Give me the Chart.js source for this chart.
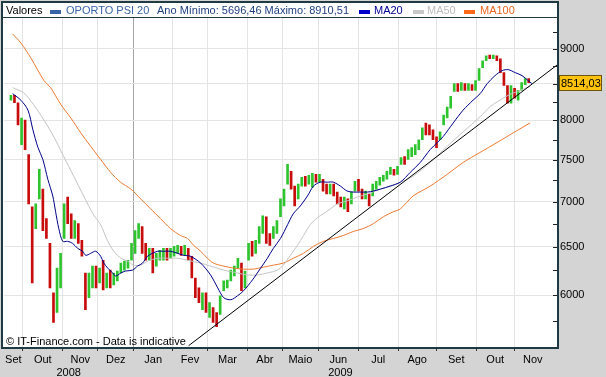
<!DOCTYPE html>
<html>
<head>
<meta charset="utf-8">
<title>OPORTO PSI 20</title>
<script src="https://cdn.jsdelivr.net/npm/chart.js@4.4.1/dist/chart.umd.min.js"></script>
<style>
  html, body { margin: 0; padding: 0; background: #d4d4d4; }
  canvas { display: block; }
</style>
</head>
<body>
<canvas id="psiChart" width="606" height="377"></canvas>
<script>
// one candle = two sessions, mid Sep 2008 -> early Nov 2009
const openVals = [
  8271, 8338, 8237, 7687, 8006, 7563, 6939, 6695, 7030, 7145,
  6805, 6534, 6024, 5831, 6073, 6587, 7053, 6860, 6587, 6750,
  6566, 6223, 5975, 6073, 6294, 6122, 6355, 6073, 6253, 6102,
  6142, 6223, 6253, 6273, 6355, 6428, 6587, 6717, 6534, 6355,
  6481, 6294, 6355, 6355, 6481, 6376, 6397, 6428, 6502, 6407,
  6481, 6397, 6172, 6073, 5859, 6024, 5784, 5878, 5831, 5812,
  6044, 6073, 6142, 6192, 6273, 6325, 6073, 6355, 6556, 6428,
  6534, 6641, 6827, 6641, 6587, 6641, 6827, 6950, 7203, 7357,
  7180, 7030, 7180, 7298, 7203, 7168, 7321, 7227, 7262, 7203,
  7087, 7203, 7110, 7053, 6916, 7030, 6973, 7122, 7262, 7145,
  7030, 7087, 7064, 7145, 7191, 7238, 7262, 7321, 7381, 7321,
  7441, 7538, 7502, 7538, 7563, 7625, 7750, 7967, 7941, 7877,
  7788, 7750, 7941, 8032, 8165, 8392, 8499, 8406, 8499, 8406,
  8485, 8406, 8544, 8727, 8826, 8910, 8855, 8898, 8855, 8656,
  8474, 8231, 8433, 8271, 8406, 8485, 8571
];
const closeVals = [
  8338, 8237, 7941, 8032, 7625, 6973, 6122, 6973, 7381, 6673,
  6587, 6073, 5737, 6273, 6428, 6973, 6750, 6587, 6783, 6534,
  6397, 5859, 6223, 6294, 6073, 6273, 6053, 6223, 6073, 6223,
  6243, 6325, 6345, 6355, 6534, 6673, 6750, 6428, 6355, 6481,
  6223, 6428, 6460, 6481, 6355, 6481, 6502, 6513, 6407, 6513,
  6355, 6172, 5975, 5926, 6024, 5831, 5926, 5737, 5696, 5994,
  6142, 6152, 6253, 6294, 6376, 6044, 6243, 6534, 6397, 6566,
  6717, 6838, 6534, 6513, 6717, 6783, 7030, 7145, 7441, 7145,
  6950, 7203, 7286, 7180, 7310, 7333, 7227, 7321, 7122, 7087,
  7203, 7064, 6973, 6939, 7053, 6883, 7110, 7238, 7122, 7030,
  7122, 6950, 7203, 7238, 7286, 7310, 7357, 7405, 7310, 7417,
  7526, 7441, 7625, 7650, 7687, 7750, 7903, 7813, 7813, 7750,
  7650, 7851, 8071, 8178, 8325, 8499, 8392, 8513, 8406, 8499,
  8406, 8544, 8712, 8826, 8898, 8855, 8910, 8826, 8656, 8474,
  8231, 8474, 8300, 8406, 8513, 8571, 8514.03
];

// moving averages, read at candle positions
const ma20At = [0.5, 2.8, 4.8, 6.2, 7.6, 9.0, 10.4, 11.8, 12.6, 13.5, 14.6, 16.0, 17.4, 18.8, 20.2, 21.1, 22.5, 23.9, 25.3, 26.2,
  27.3, 28.7, 29.5, 31.0, 32.3, 34.3, 35.7, 37.1, 38.5, 39.9, 41.4, 43.0, 45.0, 47.0, 48.7, 50.6, 53.5, 56.3, 58.3, 60.0,
  62.0, 63.9, 65.6, 68.1, 70.4, 72.3, 74.0, 76.0, 78.0, 79.6, 81.6, 83.6, 85.3, 87.2, 89.2, 90.9, 92.9, 94.8, 96.5, 98.5,
  100.5, 102.2, 104.2, 106.9, 109.8, 112.6, 115.4, 118.2, 120.2, 121.9, 124.7, 127.5, 130.3, 132.3, 134.3, 136.5, 138.5, 140.2, 142.2, 144.1,
  145.8, 146.9];
const ma20 = [8361, 8271, 8137, 7877, 7654, 7502, 7262, 7064, 6883, 6695, 6556, 6556, 6534, 6481, 6450, 6407, 6428, 6450, 6397, 6325,
  6273, 6223, 6192, 6223, 6243, 6253, 6294, 6325, 6397, 6428, 6450, 6450, 6450, 6428, 6407, 6397, 6325, 6202, 6073, 5975,
  5955, 5994, 6044, 6152, 6273, 6376, 6481, 6587, 6738, 6860, 6950, 7064, 7180, 7227, 7227, 7227, 7180, 7122, 7110, 7110,
  7110, 7122, 7145, 7180, 7227, 7345, 7465, 7625, 7713, 7792, 7967, 8137, 8271, 8361, 8500, 8613, 8684, 8698, 8655, 8613,
  8544, 8500];

const ma50At = [0.5, 3.6, 6.4, 9.3, 12.1, 14.9, 17.7, 20.5, 23.3, 25.3, 27.3, 29.0, 31.0, 32.9, 34.6, 36.6, 38.5, 41.4, 44.2, 47.0,
  49.8, 53.5, 56.3, 60.0, 63.9, 66.7, 69.5, 72.3, 75.1, 76.8, 78.8, 80.8, 82.5, 84.4, 86.4, 88.1, 90.1, 92.0, 94.8, 97.7,
  100.5, 104.2, 107.0, 109.8, 113.4, 118.2, 123.0, 127.5, 132.3, 135.1, 137.9, 140.2, 143.6, 146.4];
const ma50 = [8443, 8372, 8210, 8006, 7787, 7538, 7298, 7064, 6849, 6738, 6556, 6450, 6376, 6345, 6304, 6304, 6345, 6376, 6376, 6376,
  6355, 6325, 6294, 6253, 6223, 6202, 6202, 6223, 6253, 6304, 6407, 6513, 6619, 6738, 6816, 6860, 6916, 6973, 7007, 7053,
  7087, 7145, 7180, 7227, 7298, 7465, 7665, 7851, 8049, 8184, 8271, 8338, 8406, 8460];

const ma100At = [0.5, 2.8, 5.6, 9.3, 11.2, 14.0, 16.9, 19.7, 22.5, 25.3, 28.1, 30.9, 33.8, 36.6, 39.4, 42.2, 45.0, 47.8, 49.8, 51.5,
  53.5, 55.4, 57.1, 60.0, 62.8, 65.6, 68.4, 71.2, 74.0, 76.8, 79.6, 82.5, 85.3, 88.1, 90.9, 93.7, 96.5, 99.3, 102.2, 105.0,
  107.8, 109.8, 113.4, 118.2, 123.0, 127.5, 132.3, 137.1, 141.6, 146.4];
const ma100 = [9224, 9089, 8869, 8544, 8443, 8218, 8032, 7838, 7665, 7502, 7345, 7227, 7145, 7030, 6916, 6805, 6695, 6619, 6587, 6513,
  6450, 6376, 6325, 6294, 6273, 6263, 6263, 6283, 6304, 6325, 6376, 6428, 6502, 6556, 6587, 6619, 6663, 6695, 6750, 6827,
  6883, 6916, 7064, 7180, 7321, 7465, 7590, 7715, 7838, 7967];

// support line
const trendAt = [50.1, 154.25];
const trendVals = [5521, 8775];

// axis labels
const monthEdges = [-2, 3.35, 14.6, 24.5, 34.6, 45.6, 55.4, 66.7, 76.5, 86.7, 97.9, 109.2, 119.9, 131.2, 141.9, 152.4];
const monthNames = ['Set', 'Out', 'Nov', 'Dez', 'Jan', 'Fev', 'Mar', 'Abr', 'Maio', 'Jun', 'Jul', 'Ago', 'Set', 'Out', 'Nov'];
const yearAt = [16.3, 92.9];
const yearNames = ['2008', '2009'];
const yearStart = 34.6;
const yTicks = [6000, 6500, 7000, 7500, 8000, 8500, 9000];
const yMinor = [5750, 6000, 6250, 6500, 6750, 7000, 7250, 7500, 7750, 8000, 8250, 8500, 8750, 9000, 9250];

const yearMin = '5696,46';
const yearMax = '8910,51';
const lastClose = 8514.03;

const xMin = -2, xMax = 154.25;
const FONT = '"Liberation Sans", Arial, sans-serif';

const candles = openVals.map((o, i) => ({ x: i, y: [o, closeVals[i]] }));
const candleColors = openVals.map((o, i) => closeVals[i] >= o ? '#2ec42e' : '#c80c0c');
const toPts = (xs, ys) => xs.map((x, k) => ({ x: x, y: ys[k] }));
const monthMid = monthNames.map((m, k) => (monthEdges[k] + monthEdges[k + 1]) / 2);

const decor = {
    id: 'decor',
    beforeDraw(chart) {
        const { ctx, chartArea: a } = chart;
        ctx.save();
        ctx.fillStyle = '#d4d4d4';
        ctx.fillRect(0, 0, chart.width, chart.height);
        ctx.fillStyle = '#ffffff';
        ctx.fillRect(2, 2, a.right - 2, a.bottom - 2);
        ctx.restore();
    },
    afterDraw(chart) {
        const { ctx, chartArea: a } = chart;
        const yScale = chart.scales.y;
        ctx.save();

        // inward tick marks on the price axis
        ctx.strokeStyle = '#222';
        ctx.lineWidth = 1;
        yMinor.forEach(v => {
            const py = Math.round(yScale.getPixelForValue(v)) + 0.5;
            ctx.beginPath();
            ctx.moveTo(a.right - 5, py);
            ctx.lineTo(a.right, py);
            ctx.stroke();
        });

        // legend strip
        ctx.fillStyle = '#ffffff';
        ctx.fillRect(3, 3, a.right - 3, 14);
        ctx.font = '11px ' + FONT;
        ctx.textBaseline = 'middle';
        const ly = 11;
        const text = (s, x, c) => { ctx.fillStyle = c; ctx.fillText(s, x, ly); };
        const box = (x, c) => { ctx.fillStyle = c; ctx.fillRect(x, 10, 11, 4); };
        text('Valores', 6, '#000000');
        box(50, '#3a64a8');
        text('OPORTO PSI 20', 66, '#3a64a8');
        text('Ano Mínimo: ' + yearMin + ' Máximo: ' + yearMax, 157, '#1f3f80');
        box(359, '#0000cc');
        text('MA20', 374, '#000099');
        box(413, '#c8c8c8');
        text('MA50', 427, '#bdbdbd');
        box(464, '#ff6a1a');
        text('MA100', 480, '#e8641c');

        // frame
        ctx.strokeStyle = '#1f3a42';
        ctx.lineWidth = 1;
        ctx.beginPath();
        ctx.moveTo(3, 17.5);
        ctx.lineTo(a.right, 17.5);
        ctx.stroke();
        ctx.lineWidth = 2;
        ctx.strokeRect(2, 2, a.right - 2, a.bottom - 2);

        // source note
        ctx.fillStyle = '#000000';
        ctx.fillText('© IT-Finance.com - Data is indicative', 6, 342);

        // last price tag
        const py = Math.round(yScale.getPixelForValue(lastClose));
        ctx.fillStyle = '#ffc20e';
        ctx.fillRect(559, py - 8, 43, 16);
        ctx.lineWidth = 1;
        ctx.strokeStyle = '#6a5410';
        ctx.strokeRect(559.5, py - 7.5, 42, 15);
        ctx.fillStyle = '#000000';
        ctx.fillText(lastClose.toFixed(2).replace('.', ','), 561, py + 0.5);

        ctx.restore();
    }
};

const ctx = document.getElementById('psiChart').getContext('2d');
const psiChart = new Chart(ctx, {
    type: 'bar',
    data: {
        datasets: [
            {
                type: 'line',
                label: 'trend',
                data: toPts(trendAt, trendVals),
                borderColor: '#000000',
                borderWidth: 1,
                pointRadius: 0,
                order: 0
            },
            {
                type: 'line',
                label: 'MA20',
                data: toPts(ma20At, ma20),
                borderColor: '#00008c',
                borderWidth: 1,
                pointRadius: 0,
                tension: 0.3,
                order: 1
            },
            {
                type: 'line',
                label: 'MA50',
                data: toPts(ma50At, ma50),
                borderColor: '#c4c4c4',
                borderWidth: 1,
                pointRadius: 0,
                tension: 0.3,
                order: 2
            },
            {
                type: 'line',
                label: 'MA100',
                data: toPts(ma100At, ma100),
                borderColor: '#ee7a30',
                borderWidth: 1,
                pointRadius: 0,
                tension: 0.3,
                order: 3
            },
            {
                type: 'bar',
                label: 'OPORTO PSI 20',
                data: candles,
                backgroundColor: candleColors,
                barThickness: 2,
                minBarLength: 1,
                order: 4
            }
        ]
    },
    options: {
        responsive: false,
        animation: false,
        devicePixelRatio: 1,
        layout: { padding: { left: 3, top: 18, right: 0, bottom: 0 } },
        plugins: {
            legend: { display: false },
            tooltip: { enabled: false }
        },
        scales: {
            x: {
                type: 'linear',
                position: 'bottom',
                min: xMin,
                max: xMax,
                offset: false,
                afterBuildTicks: s => { s.ticks = monthEdges.slice(1, -1).map(v => ({ value: v })); },
                afterFit: s => { s.height = 0; },
                grid: {
                    offset: false,
                    color: c => (c.tick && c.tick.value === yearStart) ? '#a4a4a4' : '#e4e4e4',
                    tickColor: '#333333',
                    tickLength: 3
                },
                border: { display: false },
                ticks: { display: false }
            },
            months: {
                type: 'linear',
                position: 'bottom',
                min: xMin,
                max: xMax,
                offset: false,
                afterBuildTicks: s => { s.ticks = monthMid.map(v => ({ value: v })); },
                afterFit: s => { s.height = 18; },
                grid: { display: false, drawTicks: false, offset: false },
                border: { display: false },
                ticks: {
                    autoSkip: false,
                    maxRotation: 0,
                    padding: 5,
                    color: '#000000',
                    font: { family: FONT, size: 11 },
                    callback: (v, i) => monthNames[i]
                }
            },
            years: {
                type: 'linear',
                position: 'bottom',
                min: xMin,
                max: xMax,
                offset: false,
                afterBuildTicks: s => { s.ticks = yearAt.map(v => ({ value: v })); },
                afterFit: s => { s.height = 11; },
                grid: { display: false, drawTicks: false, offset: false },
                border: { display: false },
                ticks: {
                    autoSkip: false,
                    maxRotation: 0,
                    padding: 0,
                    color: '#000000',
                    font: { family: FONT, size: 11 },
                    callback: (v, i) => yearNames[i]
                }
            },
            y: {
                type: 'logarithmic',
                position: 'right',
                min: 5500,
                max: 9470,
                afterBuildTicks: s => { s.ticks = yTicks.map(v => ({ value: v })); },
                afterFit: s => { s.width = 48; },
                grid: { color: '#e4e4e4', drawTicks: false },
                border: { display: false },
                ticks: {
                    padding: 2,
                    color: '#000000',
                    font: { family: FONT, size: 11 },
                    callback: v => String(v)
                }
            }
        }
    },
    plugins: [decor]
});
</script>
</body>
</html>
